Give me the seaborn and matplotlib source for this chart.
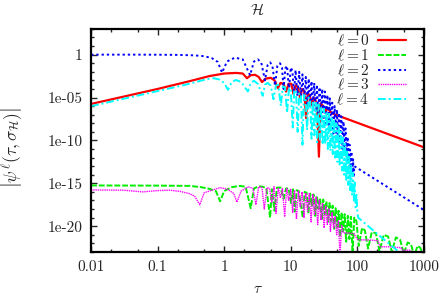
import numpy as np
import pandas as pd
import matplotlib
matplotlib.use("Agg")
import matplotlib.pyplot as plt
import matplotlib.ticker as mticker
import seaborn as sns

# values: tau and log10|psi| for each multipole
tau_l0 = [0.01, 0.1, 0.3, 0.6, 1.0, 1.5, 1.9, 2.2, 2.5, 2.9, 3.3, 3.7, 4.2, 5.0, 5.7, 6.4, 7.0,
          7.8, 8.5, 9.3, 10.2, 11.0, 11.8, 12.8, 13.8, 14.8, 16.0, 17.0, 18.0, 19.3, 20.6,
          22.0, 23.5, 25.0, 26.5, 28.0, 30, 33, 36, 40, 45, 1000]
lg_l0 = [-5.75, -4.0, -3.1, -2.5, -2.2, -2.13, -2.2, -2.75, -2.4, -2.35, -2.6, -3.2, -2.8, -2.7,
         -3.0, -3.9, -3.3, -3.4, -4.3, -3.4, -3.4, -4.6, -3.6, -3.8, -5.0, -4.0, -4.3, -7.4,
         -4.5, -4.8, -5.9, -5.0, -5.3, -6.2, -11.9, -5.7, -5.9, -6.6, -6.3, -6.7, -6.95, -10.8]

tau_l1 = [0.01, 0.1, 0.3, 0.45, 0.6, 0.75, 0.87, 1.0, 1.3, 1.7, 2.1, 2.5, 2.8, 3.3, 3.8, 4.3,
          4.9, 5.2, 5.7, 6.2, 7.0, 7.8, 8.5, 9.3, 10.1, 10.8, 11.5, 12.3, 13.2, 14.1, 15.2,
          16.2, 17.3, 18.4, 19.6, 20.8, 22.0, 23.3, 24.7, 26.1, 27.6, 29.2, 30.8, 32.5, 34.3,
          36.2, 38.2, 40.3, 42.5, 44.8, 47.2, 49.7, 52.3, 55, 58, 61, 64.5, 68, 72, 76, 80,
          85, 90, 97, 105, 118, 130, 145, 165, 190, 215, 250, 290, 330, 380, 440, 500, 570,
          640, 720, 800, 880, 1000]
lg_l1 = [-15.25, -15.27, -15.3, -15.45, -15.65, -15.9, -17.1, -15.9, -15.45, -15.3, -15.4,
         -17.9, -15.6, -15.35, -15.4, -15.6, -19.0, -15.7, -18.2, -15.5, -15.5, -16.8, -15.6,
         -15.6, -17.3, -15.7, -18.3, -15.8, -15.9, -17.5, -19.0, -16.0, -16.1, -18.4, -16.2,
         -17.6, -16.3, -18.8, -16.5, -18.0, -16.7, -19.3, -16.9, -18.6, -17.1, -19.5, -17.3,
         -19.4, -17.6, -20.3, -17.9, -20.1, -18.2, -21.2, -18.4, -20.6, -18.6, -21.8, -18.8,
         -21.5, -18.9, -23.2, -19.0, -19.4, -22.3, -20.2, -20.5, -22.6, -20.7, -20.8, -22.9,
         -21.0, -21.2, -23.0, -21.3, -21.6, -23.2, -21.9, -22.1, -23.5, -22.3, -22.5, -23.5]

tau_l2 = [0.01, 0.05, 0.1, 0.2, 0.35, 0.5, 0.65, 0.8, 0.93, 1.1, 1.45, 1.9, 2.45, 2.8, 3.2,
          3.6, 4.1, 4.5, 4.9, 5.3, 5.8, 6.3, 6.9, 7.4, 7.8, 8.3, 8.8, 9.4, 10.0, 10.6, 11.2,
          11.8, 12.6, 13.4, 14.2, 15.0, 15.9, 16.8, 17.7, 18.6, 19.5, 20.5, 21.5, 22.5, 23.6,
          24.7, 25.9, 27.1, 28.4, 29.7, 31.1, 32.5, 34, 35.5, 37, 38.6, 40.3, 42, 43.8, 45.6,
          47.5, 49.4, 51.4, 53.4, 55.5, 57.6, 59.8, 62, 64.3, 66.6, 69, 71.5, 74, 76.5, 79,
          81.5, 84, 86.5, 88, 90, 1000]
lg_l2 = [0.0, 0.0, -0.01, -0.03, -0.08, -0.18, -0.4, -0.85, -2.1, -0.8, -0.35, -0.55, -2.4,
         -0.8, -0.55, -0.9, -3.0, -1.2, -0.9, -1.3, -3.6, -1.3, -1.0, -1.5, -4.0, -1.6, -1.3,
         -4.2, -1.5, -1.9, -4.6, -1.8, -4.8, -2.0, -5.0, -2.3, -5.4, -2.6, -5.7, -2.8, -6.0,
         -3.1, -6.3, -3.3, -6.7, -3.5, -7.0, -3.8, -7.3, -4.0, -7.6, -4.3, -8.0, -4.7, -8.4,
         -5.1, -8.8, -5.6, -9.2, -6.0, -9.6, -6.4, -10.0, -6.8, -10.5, -7.2, -11.0, -7.8,
         -11.5, -8.6, -12.0, -9.6, -12.6, -10.5, -13.2, -11.3, -13.8, -12.2, -14.3, -13.0,
         -18.1]

tau_l3 = [0.01, 0.03, 0.06, 0.1, 0.15, 0.22, 0.3, 0.36, 0.43, 0.5, 0.66, 0.87, 1.13, 1.4,
          1.55, 1.8, 2.3, 2.7, 3.0, 3.3, 3.7, 4.0, 4.4, 4.8, 5.2, 5.6, 6.0, 6.5, 7.0, 7.5,
          8.1, 8.7, 9.3, 10.0, 10.7, 11.4, 12.2, 13.0, 13.9, 14.8, 15.8, 16.8, 17.9, 19.0,
          20.2, 21.4, 22.7, 24.0, 25.4, 26.9, 28.4, 30, 31.7, 33.5, 35.4, 37.4, 39.5, 41.7,
          44, 46.4, 49, 52, 55, 58, 62, 75, 89, 100, 113, 150, 203, 220, 300, 450, 480, 630,
          680]
lg_l3 = [-15.77, -15.8, -16.0, -15.85, -15.8, -15.95, -16.2, -16.5, -17.5, -16.1, -15.8,
         -15.5, -15.7, -16.2, -17.2, -15.9, -15.4, -15.6, -17.5, -15.4, -15.5, -18.0, -15.5,
         -15.6, -17.2, -15.4, -18.5, -15.5, -16.7, -15.6, -18.9, -15.6, -17.0, -15.7, -18.4,
         -15.8, -19.2, -15.9, -17.8, -16.0, -19.0, -16.1, -18.3, -16.2, -19.5, -16.3, -18.7,
         -16.6, -19.8, -16.9, -19.3, -17.3, -20.2, -17.6, -19.8, -18.0, -20.6, -18.4, -20.2,
         -18.9, -21.0, -19.4, -23.5, -19.9, -20.8, -20.8, -20.9, -21.5, -21.6, -21.6, -21.7,
         -22.4, -22.4, -22.5, -22.8, -22.8, -23.5]

tau_l4 = [0.01, 0.1, 0.3, 0.55, 0.7, 0.85, 1.0, 1.14, 1.3, 1.5, 1.8, 2.27, 2.5, 2.8, 3.2,
          3.8, 4.1, 4.5, 5.0, 5.5, 6.0, 6.5, 7.1, 7.6, 8.2, 8.8, 9.4, 10.0, 10.7, 11.3, 12.0,
          12.7, 13.4, 14.2, 15.0, 15.8, 16.7, 17.6, 18.5, 19.5, 20.5, 21.5, 22.6, 23.7, 24.9,
          26.1, 27.4, 28.7, 30.1, 31.5, 33, 34.5, 36, 37.6, 39.3, 41, 42.8, 44.6, 46.5, 48.4,
          50.4, 52.4, 54.5, 56.6, 58.8, 61, 63.3, 65.6, 68, 70.4, 72.9, 75.4, 78, 80.6, 83.3,
          86, 88.7, 91.5, 94.3, 97, 100, 103, 200, 400, 600]
lg_l4 = [-6.0, -4.25, -3.4, -2.85, -2.75, -2.9, -3.3, -4.1, -3.2, -2.95, -3.2, -4.3, -3.3,
         -3.05, -3.4, -4.8, -3.5, -3.3, -3.6, -5.2, -3.6, -3.5, -6.0, -3.7, -3.8, -6.8, -3.9,
         -4.0, -8.5, -4.1, -4.3, -9.0, -4.5, -4.6, -10.5, -4.7, -4.9, -8.8, -5.0, -5.2, -9.8,
         -5.4, -9.4, -5.6, -10.2, -5.8, -9.9, -6.1, -10.5, -6.3, -10.4, -6.6, -11.0, -6.9,
         -11.2, -7.2, -11.6, -7.5, -12.0, -8.0, -12.5, -8.4, -13.0, -9.0, -13.5, -9.7, -14.0,
         -10.4, -14.6, -11.1, -15.2, -11.9, -15.8, -12.8, -16.4, -13.8, -17.0, -14.9, -17.8,
         -16.2, -18.3, -19.0, -20.9, -22.85, -24.0]

labels = [r"$\ell = 0$", r"$\ell = 1$", r"$\ell = 2$", r"$\ell = 3$", r"$\ell = 4$"]
colors = ["#ff0000", "#00ee00", "#0000ff", "#ff00ff", "#00ffff"]
styles = ["-", (0, (3, 1)), (0, (1.2, 1.5)), (0, (1, 0.6)), (0, (4, 1.5, 1, 1.5))]
widths = [1.6, 1.4, 1.4, 1.0, 1.4]

sns.set_theme(style="ticks")
plt.rcParams["font.family"] = ["cmr10"]
plt.rcParams["mathtext.fontset"] = "cm"
plt.rcParams["axes.unicode_minus"] = False
plt.rcParams["axes.formatter.use_mathtext"] = True

fig = plt.figure(figsize=(4.42, 2.95), dpi=100)
ax = fig.add_axes([0.206, 0.146, 0.753, 0.756])

curves = [(tau_l0, lg_l0), (tau_l1, lg_l1), (tau_l2, lg_l2), (tau_l3, lg_l3), (tau_l4, lg_l4)]
for (tau, lg), lab, col, ls, lw in zip(curves, labels, colors, styles, widths):
    df = pd.DataFrame({"tau": tau, "psi": np.power(10.0, lg)})
    sns.lineplot(data=df, x="tau", y="psi", ax=ax, color=col, linestyle=ls,
                 linewidth=lw, label=lab, estimator=None, errorbar=None, sort=False)

ax.set_xscale("log")
ax.set_yscale("log")
ax.set_xlim(0.01, 1000)
ax.set_ylim(1e-23, 1e3)

xt = [0.01, 0.1, 1, 10, 100, 1000]
ax.xaxis.set_major_locator(mticker.FixedLocator(xt))
ax.xaxis.set_major_formatter(mticker.FixedFormatter(["0.01", "0.1", "1", "10", "100", "1000"]))
ax.xaxis.set_minor_locator(mticker.LogLocator(base=10, subs=(2.0, 5.0), numticks=20))
ax.xaxis.set_minor_formatter(mticker.NullFormatter())

yt = [1e-20, 1e-15, 1e-10, 1e-5, 1]
ax.yaxis.set_major_locator(mticker.FixedLocator(yt))
ax.yaxis.set_major_formatter(mticker.FixedFormatter(["1e-20", "1e-15", "1e-10", "1e-05", "1"]))
ax.yaxis.set_minor_locator(mticker.FixedLocator([10.0 ** k for k in range(-23, 4)]))
ax.yaxis.set_minor_formatter(mticker.NullFormatter())

ax.tick_params(which="both", direction="in", top=True, right=True, labelsize=11, width=1.0)
ax.tick_params(which="major", length=4.5, pad=6)
ax.tick_params(which="minor", length=2.5)
for s in ax.spines.values():
    s.set_linewidth(1.6)
    s.set_color("black")

ax.set_title(r"$\mathcal{H}$", fontsize=11, pad=10)
ax.set_xlabel(r"$\tau$", fontsize=11, labelpad=6)
ax.set_ylabel(r"$\left|\psi^{\ell}(\tau,\sigma_{\mathcal{H}})\right|$", fontsize=12.5)
ax.yaxis.set_label_coords(-0.2, 0.47)

ax.legend(loc="upper right", bbox_to_anchor=(0.946, 0.98), frameon=False, markerfirst=False,
          fontsize=11, handlelength=1.8, handletextpad=0.6, labelspacing=-0.05, borderpad=0,
          borderaxespad=0)

fig.savefig("out.png", dpi=100)
